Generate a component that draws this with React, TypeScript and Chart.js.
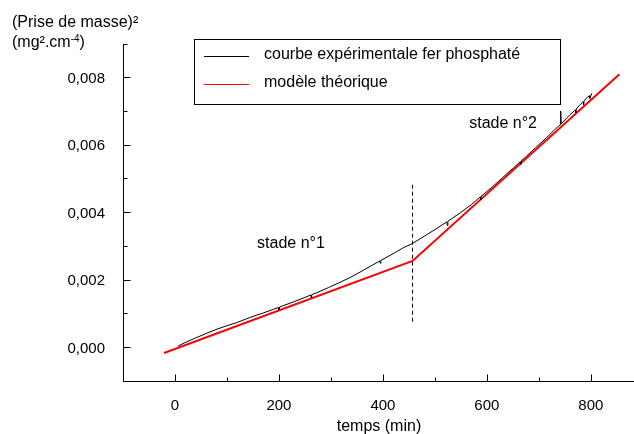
import React, { useEffect, useRef } from 'react';
import { Chart, registerables } from 'chart.js';

Chart.register(...registerables);

// ---- Data ----
const expTime = [6, 25, 40, 60, 81, 100, 120, 145, 170, 190, 199, 200, 201, 209, 230, 250, 261, 262, 263, 273, 295, 315, 337, 356, 380, 394, 395, 396, 400, 420, 440, 457, 480, 500, 523, 524, 525, 549, 570, 587, 588, 589, 610, 630, 651, 664, 665, 666, 672, 693, 715, 730, 741, 742, 743, 760, 770, 771, 772, 779, 785, 786, 787, 790, 797, 798, 802];
const expMass = [0.00003, 0.00017, 0.00027, 0.0004, 0.00053, 0.00063, 0.00073, 0.00088, 0.00101, 0.00112, 0.00117, 0.0011, 0.00118, 0.00123, 0.00135, 0.00147, 0.00154, 0.00146, 0.00155, 0.00161, 0.00176, 0.0019, 0.00206, 0.00222, 0.00243, 0.00255, 0.00248, 0.00257, 0.0026, 0.00277, 0.00295, 0.00307, 0.00329, 0.00348, 0.00371, 0.0036, 0.00373, 0.00398, 0.00422, 0.00445, 0.00436, 0.00447, 0.00474, 0.00502, 0.00531, 0.00549, 0.00541, 0.00552, 0.0056, 0.0059, 0.00621, 0.00644, 0.00659, 0.007, 0.00662, 0.00689, 0.00703, 0.00695, 0.00706, 0.00718, 0.00727, 0.00718, 0.0073, 0.00736, 0.00745, 0.00737, 0.00753];
const modelTime = [-21, 457, 855];
const modelMass = [-0.00018, 0.00255, 0.00809];
const stageLimitTime = [457, 457];
const stageLimitMass = [0.00075, 0.0049];

const seriesLabels = ['courbe expérimentale fer phosphaté', 'modèle théorique'];
const xTickValues = [-100, 0, 100, 200, 300, 400, 500, 600, 700, 800];
const xLabelValues = [0, 200, 400, 600, 800];
const yTickValues = [-0.001, 0, 0.001, 0.002, 0.003, 0.004, 0.005, 0.006, 0.007, 0.008, 0.009];
const yLabelValues = [0, 0.002, 0.004, 0.006, 0.008];
const xTitle = 'temps (min)';
const yTitleLine1 = '(Prise de masse)²';
const yTitleLine2 = ['(mg².cm', '-4', ')'];
const stageLabels = ['stade n°1', 'stade n°2'];

const FONT = '"Liberation Sans", Arial, Helvetica, sans-serif';

const near = (a: number, b: number) => Math.abs(a - b) < 1e-9;

const decorPlugin = {
  id: 'decor',
  beforeDatasetsDraw(chart: any) {
    const { ctx, chartArea } = chart;
    const xs = chart.scales.x;
    const ys = chart.scales.y;
    ctx.save();
    ctx.strokeStyle = '#000';
    ctx.lineWidth = 1;
    const ax = Math.round(chartArea.left) + 0.5;
    const ay = Math.round(chartArea.bottom) + 0.5;
    ctx.beginPath();
    ctx.moveTo(ax, Math.round(chartArea.top));
    ctx.lineTo(ax, ay);
    ctx.lineTo(chartArea.right, ay);
    ctx.stroke();
    yTickValues.forEach((v) => {
      const p = Math.round(ys.getPixelForValue(v)) + 0.5;
      const major = yLabelValues.some((l) => near(l, v));
      const len = major ? 7 : 4;
      ctx.beginPath();
      ctx.moveTo(ax, p);
      ctx.lineTo(ax + len, p);
      ctx.stroke();
    });
    xTickValues.forEach((v) => {
      const p = Math.round(xs.getPixelForValue(v)) + 0.5;
      const major = xLabelValues.some((l) => near(l, v));
      const len = major ? 7 : 4;
      ctx.beginPath();
      ctx.moveTo(p, ay);
      ctx.lineTo(p, ay - len);
      ctx.stroke();
    });
    ctx.restore();
  },
  afterDraw(chart: any) {
    const { ctx } = chart;
    const xs = chart.scales.x;
    const ys = chart.scales.y;
    ctx.save();
    ctx.fillStyle = '#000';
    ctx.textBaseline = 'alphabetic';
    ctx.font = `16px ${FONT}`;
    ctx.textAlign = 'left';
    ctx.fillText(yTitleLine1, 12, 27);
    let x = 12;
    ctx.fillText(yTitleLine2[0], x, 47);
    x += ctx.measureText(yTitleLine2[0]).width;
    ctx.font = `10px ${FONT}`;
    ctx.fillText(yTitleLine2[1], x, 42);
    x += ctx.measureText(yTitleLine2[1]).width;
    ctx.font = `16px ${FONT}`;
    ctx.fillText(yTitleLine2[2], x, 47);
    ctx.textAlign = 'center';
    ctx.fillText(xTitle, 379, 431);
    ctx.font = `16px ${FONT}`;
    ctx.textAlign = 'left';
    ctx.textBaseline = 'middle';
    ctx.fillText(stageLabels[0], xs.getPixelForValue(158), ys.getPixelForValue(0.00306));
    ctx.fillText(stageLabels[1], xs.getPixelForValue(566), ys.getPixelForValue(0.00662));
    const bx = 194.5, by = 39.5, bw = 366, bh = 65;
    ctx.fillStyle = '#fff';
    ctx.fillRect(bx, by, bw, bh);
    ctx.strokeStyle = '#000';
    ctx.lineWidth = 1;
    ctx.strokeRect(bx, by, bw, bh);
    const rows = [56.5, 84.5];
    const ds = chart.data.datasets.filter((d: any) => seriesLabels.includes(d.label));
    ds.forEach((d: any, i: number) => {
      ctx.strokeStyle = d.borderColor;
      ctx.lineWidth = 1;
      ctx.beginPath();
      ctx.moveTo(204, rows[i]);
      ctx.lineTo(249, rows[i]);
      ctx.stroke();
      ctx.fillStyle = '#000';
      ctx.font = `16px ${FONT}`;
      ctx.textBaseline = 'middle';
      ctx.fillText(d.label, 264, rows[i] - 1.5);
    });
    ctx.restore();
  },
};

export default function App() {
  const ref = useRef<HTMLCanvasElement | null>(null);

  useEffect(() => {
    if (!ref.current) return;
    Chart.defaults.font.family = FONT;
    const chart = new Chart(ref.current, {
      type: 'line',
      data: {
        datasets: [
          {
            label: seriesLabels[0],
            data: expTime.map((t, i) => ({ x: t, y: expMass[i] })),
            borderColor: '#000000',
            borderWidth: 1,
            pointRadius: 0,
            tension: 0,
          },
          {
            label: seriesLabels[1],
            data: modelTime.map((t, i) => ({ x: t, y: modelMass[i] })),
            borderColor: '#ff0000',
            borderWidth: 2,
            pointRadius: 0,
            tension: 0,
          },
          {
            label: 'limite',
            data: stageLimitTime.map((t, i) => ({ x: t, y: stageLimitMass[i] })),
            borderColor: '#000000',
            borderWidth: 1,
            borderDash: [4, 3],
            pointRadius: 0,
            tension: 0,
          },
        ],
      },
      options: {
        animation: false,
        responsive: false,
        events: [],
        layout: { padding: { top: 43.5, left: 0, right: 0, bottom: 0 } },
        plugins: { legend: { display: false }, tooltip: { enabled: false }, title: { display: false } },
        scales: {
          x: {
            type: 'linear',
            min: -100,
            max: 883,
            grid: { display: false },
            border: { display: false },
            afterBuildTicks: (s: any) => {
              s.ticks = xTickValues.map((v) => ({ value: v }));
            },
            afterFit: (s: any) => {
              s.height = 53.3;
            },
            ticks: {
              autoSkip: false,
              maxRotation: 0,
              padding: 8,
              color: '#000',
              font: { size: 15, family: FONT },
              callback: (v: any) => (xLabelValues.some((l) => near(l, Number(v))) ? String(v) : ''),
            },
          },
          y: {
            type: 'linear',
            min: -0.001,
            max: 0.009,
            grid: { display: false },
            border: { display: false },
            afterBuildTicks: (s: any) => {
              s.ticks = yTickValues.map((v) => ({ value: v }));
            },
            afterFit: (s: any) => {
              s.width = 123;
            },
            ticks: {
              autoSkip: false,
              padding: 10,
              labelOffset: 1.5,
              color: '#000',
              font: { size: 15, family: FONT },
              callback: (v: any) =>
                yLabelValues.some((l) => near(l, Number(v))) ? Number(v).toFixed(3).replace('.', ',') : '',
            },
          },
        },
      },
      plugins: [decorPlugin],
    } as any);
    return () => chart.destroy();
  }, []);

  return (
    <div style={{ position: 'absolute', left: 0, top: 0, width: 634, height: 434, background: '#fff' }}>
      <canvas ref={ref} width={634} height={434} style={{ display: 'block' }} />
    </div>
  );
}
